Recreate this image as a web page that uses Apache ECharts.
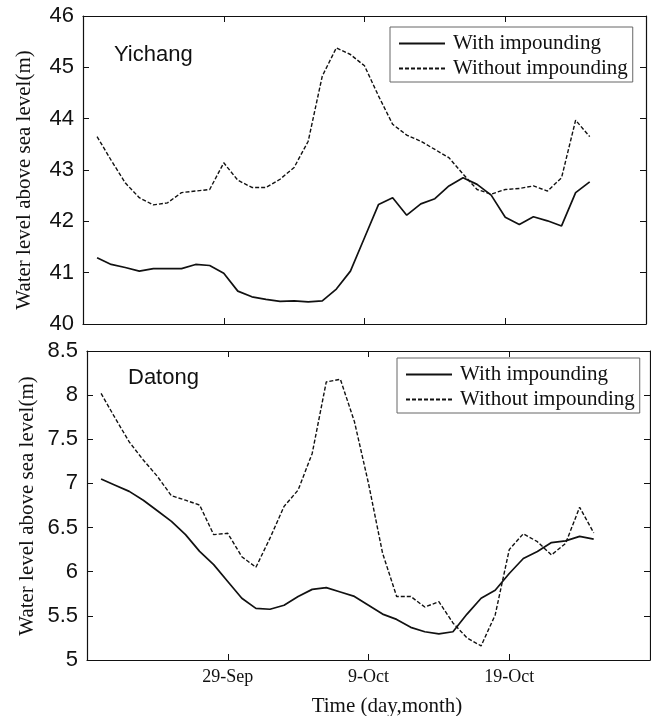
<!DOCTYPE html>
<html>
<head>
<meta charset="utf-8">
<script src="https://cdn.jsdelivr.net/npm/echarts@6/dist/echarts.min.js"></script>
<style>
html,body{margin:0;padding:0;background:#fff;}
#chart{width:651px;height:716px;}
</style>
</head>
<body>
<div id="chart"></div>
<script>
// Axis categories (days)
var axisDays = ['19-Sep','20-Sep','21-Sep','22-Sep','23-Sep','24-Sep','25-Sep','26-Sep','27-Sep','28-Sep','29-Sep','30-Sep',
  '1-Oct','2-Oct','3-Oct','4-Oct','5-Oct','6-Oct','7-Oct','8-Oct','9-Oct','10-Oct','11-Oct','12-Oct','13-Oct','14-Oct',
  '15-Oct','16-Oct','17-Oct','18-Oct','19-Oct','20-Oct','21-Oct','22-Oct','23-Oct','24-Oct','25-Oct','26-Oct','27-Oct','28-Oct','29-Oct'];
var tickLabels = ['29-Sep','9-Oct','19-Oct'];
// Days that carry data
var dataDays = ['20-Sep','21-Sep','22-Sep','23-Sep','24-Sep','25-Sep','26-Sep','27-Sep','28-Sep','29-Sep','30-Sep',
  '1-Oct','2-Oct','3-Oct','4-Oct','5-Oct','6-Oct','7-Oct','8-Oct','9-Oct','10-Oct','11-Oct','12-Oct','13-Oct','14-Oct',
  '15-Oct','16-Oct','17-Oct','18-Oct','19-Oct','20-Oct','21-Oct','22-Oct','23-Oct','24-Oct','25-Oct'];

// Yichang
var yichangWith = [41.29,41.16,41.10,41.03,41.08,41.08,41.08,41.16,41.14,40.99,40.64,40.53,40.48,40.44,40.45,40.43,40.45,40.68,
  41.03,41.68,42.33,42.46,42.12,42.34,42.44,42.69,42.85,42.72,42.51,42.08,41.94,42.09,42.01,41.91,42.56,42.77];
var yichangWithout = [43.65,43.19,42.75,42.46,42.32,42.36,42.56,42.59,42.62,43.14,42.80,42.66,42.66,42.82,43.05,43.56,44.83,45.38,
  45.25,45.03,44.44,43.89,43.68,43.56,43.40,43.24,42.92,42.62,42.53,42.62,42.64,42.69,42.59,42.85,43.97,43.65];
// Datong
var datongWith = [7.05,6.98,6.91,6.81,6.69,6.57,6.42,6.23,6.08,5.89,5.70,5.585,5.575,5.62,5.72,5.80,5.82,5.77,
  5.72,5.62,5.52,5.46,5.37,5.32,5.295,5.32,5.52,5.70,5.79,5.98,6.15,6.23,6.33,6.35,6.40,6.37];
var datongWithout = [8.02,7.74,7.47,7.265,7.08,6.86,6.81,6.755,6.42,6.435,6.17,6.05,6.38,6.74,6.925,7.34,8.15,8.18,
  7.70,7.00,6.21,5.72,5.72,5.60,5.66,5.42,5.25,5.16,5.51,6.25,6.43,6.34,6.19,6.32,6.73,6.44];

var SERIF = '"Liberation Serif","Times New Roman",serif';
var SANS = '"Liberation Sans",Arial,sans-serif';
var INK = '#111';

function pairs(vals){ return dataDays.map(function(d,i){ return [d, vals[i]]; }); }
function isTick(i, v){ return tickLabels.indexOf(v) >= 0; }

function xAxes(gi, showLabels){
  return [{
    type:'category', gridIndex:gi, data:axisDays, boundaryGap:false, position:'bottom',
    axisLine:{lineStyle:{color:INK,width:1.2}},
    axisTick:{inside:true,length:6,interval:isTick,lineStyle:{color:INK}},
    axisLabel:{show:showLabels,interval:isTick,color:INK,fontFamily:SERIF,fontSize:18,margin:8},
    splitLine:{show:false}
  },{
    type:'category', gridIndex:gi, data:axisDays, boundaryGap:false, position:'top',
    axisLine:{lineStyle:{color:INK,width:1.2}},
    axisTick:{inside:true,length:6,interval:isTick,lineStyle:{color:INK}},
    axisLabel:{show:false}, splitLine:{show:false}
  }];
}
function yAxes(gi, mn, mx, step){
  return [{
    type:'value', gridIndex:gi, min:mn, max:mx, interval:step, position:'left',
    axisLine:{show:true,lineStyle:{color:INK,width:1.2}},
    axisTick:{show:true,inside:true,length:6,lineStyle:{color:INK}},
    axisLabel:{color:INK,fontFamily:SANS,fontSize:22,margin:9},
    splitLine:{show:false}
  },{
    type:'value', gridIndex:gi, min:mn, max:mx, interval:step, position:'right',
    axisLine:{show:true,lineStyle:{color:INK,width:1.2}},
    axisTick:{show:true,inside:true,length:6,lineStyle:{color:INK}},
    axisLabel:{show:false}, splitLine:{show:false}
  }];
}
function line(name, vals, xi, yi, dashed){
  return {
    type:'line', name:name, xAxisIndex:xi, yAxisIndex:yi, data:pairs(vals),
    symbol:'none', showSymbol:false, animation:false, color:INK,
    itemStyle:{color:INK},
    lineStyle: dashed ? {color:INK,width:1.4,type:[4,2]} : {color:INK,width:1.7,type:'solid'}
  };
}
function legendAt(left, top){
  return {
    left:left, top:top, orient:'vertical', itemWidth:46, itemHeight:12, itemGap:4,
    padding:[6,5,3,8], borderColor:'#666', borderWidth:1, selectedMode:false,
    itemStyle:{opacity:0, color:'transparent', borderWidth:0},
    data:['With impounding','Without impounding'],
    textStyle:{fontFamily:SERIF,fontSize:21,color:INK,padding:[0,0,0,3],lineHeight:21}
  };
}

var chart = echarts.init(document.getElementById('chart'), null, {renderer:'canvas'});
chart.setOption({
  animation:false,
  backgroundColor:'#fff',
  color:[INK, INK],
  grid:[
    {left:83, top:16, width:563, height:308},
    {left:87, top:351, width:563, height:309}
  ],
  xAxis: xAxes(0,false).concat(xAxes(1,true)),
  yAxis: yAxes(0,40,46,1).concat(yAxes(1,5,8.5,0.5)),
  legend:[legendAt(390,27), legendAt(397,358)],
  title:[
    {text:'Yichang', left:114, top:44, padding:0, textStyle:{fontFamily:SANS,fontSize:22,fontWeight:'normal',color:INK}},
    {text:'Datong', left:128, top:367, padding:0, textStyle:{fontFamily:SANS,fontSize:22,fontWeight:'normal',color:INK}}
  ],
  graphic:[
    {type:'text', x:24, y:180, rotation:Math.PI/2, style:{text:'Water level above sea level(m)', font:'21px '+SERIF, fill:INK, textAlign:'center', textVerticalAlign:'middle'}},
    {type:'text', x:27, y:506, rotation:Math.PI/2, style:{text:'Water level above sea level(m)', font:'21px '+SERIF, fill:INK, textAlign:'center', textVerticalAlign:'middle'}},
    {type:'text', x:387, y:706, style:{text:'Time (day,month)', font:'21px '+SERIF, fill:INK, textAlign:'center', textVerticalAlign:'middle'}}
  ],
  series:[
    line('With impounding', yichangWith, 0, 0, false),
    line('Without impounding', yichangWithout, 0, 0, true),
    line('With impounding', datongWith, 2, 2, false),
    line('Without impounding', datongWithout, 2, 2, true)
  ]
});
</script>
</body>
</html>
